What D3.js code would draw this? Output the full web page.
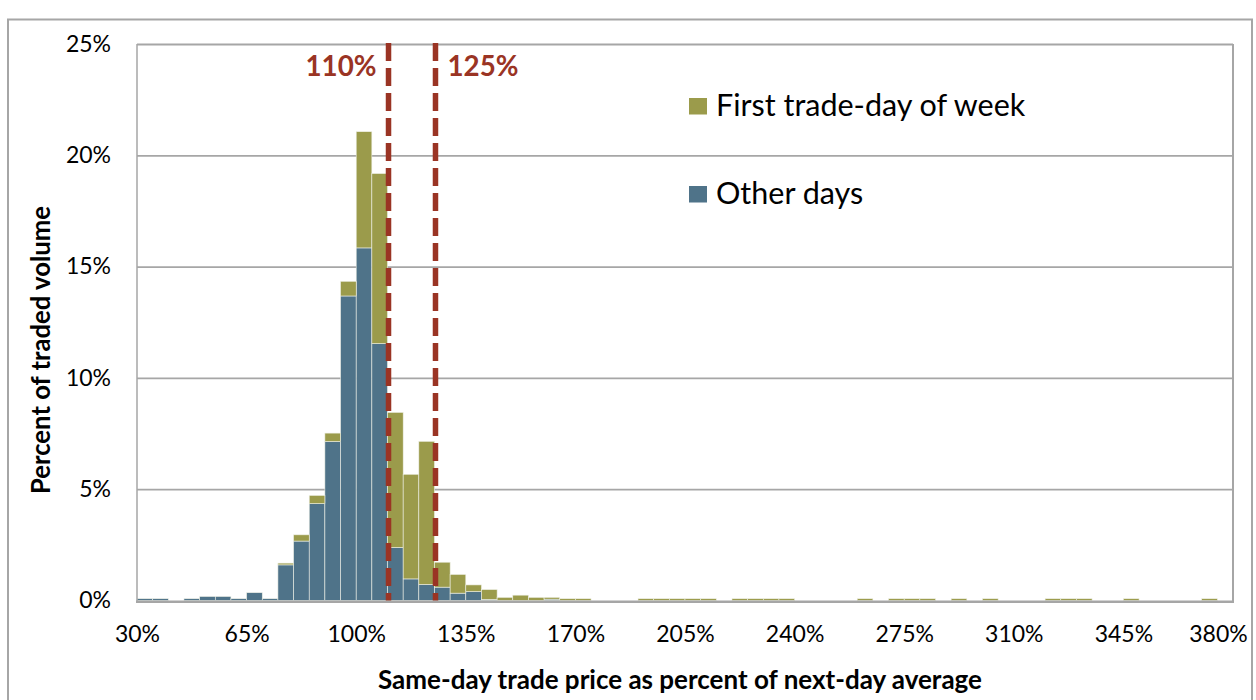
<!DOCTYPE html>
<html>
<head>
<meta charset="utf-8">
<script src="https://cdn.jsdelivr.net/npm/d3@7/dist/d3.min.js"></script>
<style>
  body { margin: 0; background: #fff; }
  svg { display: block; font-family: Lato, "Open Sans", sans-serif; }
</style>
</head>
<body>
<div class="viz"></div>
<script>
// bins of 5 points, value = lower edge of bin (same-day price as % of next-day avg)
var binStarts = [30, 35, 40, 45, 50, 55, 60, 65, 70, 75, 80, 85, 90, 95, 100, 105, 110, 115, 120, 125,
  130, 135, 140, 145, 150, 155, 160, 165, 170, 175, 180, 185, 190, 195, 200, 205, 210, 215, 220, 225,
  230, 235, 240, 245, 250, 255, 260, 265, 270, 275, 280, 285, 290, 295, 300, 305, 310, 315, 320, 325,
  330, 335, 340, 345, 350, 355, 360, 365, 370, 375];

// percent of traded volume
var otherDays = [0.08, 0.08, 0, 0.08, 0.18, 0.18, 0.08, 0.35, 0.08, 1.60, 2.67, 4.35, 7.14, 13.68, 15.84, 11.54, 2.38, 0.97, 0.72, 0.60,
  0.33, 0.40, 0.05, 0, 0, 0, 0.06, 0, 0, 0, 0, 0, 0, 0, 0, 0, 0, 0, 0, 0,
  0, 0, 0, 0, 0, 0, 0, 0, 0, 0, 0, 0, 0, 0, 0, 0, 0, 0, 0, 0,
  0, 0, 0, 0, 0, 0, 0, 0, 0, 0];

var firstDay = [0, 0, 0, 0, 0, 0, 0, 0, 0, 0.08, 0.28, 0.37, 0.38, 0.66, 5.22, 7.64, 6.07, 4.70, 6.43, 1.12,
  0.84, 0.30, 0.44, 0.14, 0.24, 0.14, 0.08, 0.08, 0.08, 0, 0, 0, 0.08, 0.08, 0.08, 0.08, 0.08, 0, 0.08, 0.08,
  0.08, 0.08, 0, 0, 0, 0, 0.08, 0, 0.08, 0.08, 0.08, 0, 0.08, 0, 0.08, 0, 0, 0, 0.08, 0.08,
  0.08, 0, 0, 0.08, 0, 0, 0, 0, 0.08, 0];

var yTicks = [0, 5, 10, 15, 20, 25];
var xTicks = [30, 65, 100, 135, 170, 205, 240, 275, 310, 345, 380];
var thresholds = [110, 125];
var seriesNames = ['Other days', 'First trade-day of week'];

var width = 1256,
    height = 700,
    margin = {top: 44, right: 23, bottom: 99.5, left: 137},
    binWidth = 5;

var colors = {other: '#4f7389', first: '#9b9b4b'},
    red = '#9a3424',
    grey = '#a6a6a6';

var svg = d3.select('.viz').append('svg')
  .attr('width', width)
  .attr('height', height);

// scale a text's font size so it spans the wanted width
function fitWidth(sel, target){
  sel.each(function(){
    var t = d3.select(this),
        fs = parseFloat(t.attr('font-size')),
        w = this.getComputedTextLength();
    if(w > 0) t.attr('font-size', (fs * target / w).toFixed(2));
  });
}

// outer chart frame
svg.append('rect')
  .attr('x', 8).attr('y', 19.5)
  .attr('width', 1244).attr('height', 720)
  .attr('fill', 'none')
  .attr('stroke', grey)
  .attr('stroke-width', 2);

var x = d3.scaleLinear()
  .domain([30, 380])
  .range([margin.left, width - margin.right]);

var y = d3.scaleLinear()
  .domain([0, 25])
  .range([height - margin.bottom, margin.top]);

// gridlines
svg.append('g')
  .attr('class', 'grid')
  .attr('transform', 'translate(' + margin.left + ',0)')
  .call(d3.axisLeft(y).tickValues(yTicks.slice(1)).tickSize(-(x.range()[1] - x.range()[0])).tickFormat(''))
  .call(function(g){
    g.select('.domain').remove();
    g.selectAll('line').attr('stroke', grey).attr('stroke-width', 1.8);
  });

// stacked bars
var table = binStarts.map(function(b, i){
  return {bin: b, other: otherDays[i], first: firstDay[i]};
});

var stacked = d3.stack().keys(['other', 'first'])(table);

svg.append('g')
  .selectAll('g')
  .data(stacked)
  .enter()
  .append('g')
  .attr('fill', function(d){ return colors[d.key]; })
  .selectAll('rect')
  .data(function(d){ return d.filter(function(e){ return e[1] - e[0] > 0; }); })
  .enter()
  .append('rect')
  .attr('x', function(d){ return x(d.data.bin); })
  .attr('width', function(d){ return x(d.data.bin + binWidth) - x(d.data.bin); })
  .attr('y', function(d){ return y(d[1]); })
  .attr('height', function(d){ return y(d[0]) - y(d[1]); })
  .attr('stroke', '#eef0e6')
  .attr('stroke-width', 0.6);

// plot frame: left, right, bottom
var frame = svg.append('g').attr('fill', 'none').attr('stroke', grey);
frame.append('line')
  .attr('x1', x(30)).attr('x2', x(30))
  .attr('y1', y(25)).attr('y2', y(0) + 1)
  .attr('stroke-width', 1.5);
frame.append('line')
  .attr('x1', x(380)).attr('x2', x(380))
  .attr('y1', y(25)).attr('y2', y(0) + 1)
  .attr('stroke-width', 2);
frame.append('line')
  .attr('x1', x(30) - 1).attr('x2', x(380) + 1)
  .attr('y1', y(0) + 1.2).attr('y2', y(0) + 1.2)
  .attr('stroke-width', 2.4);

// y axis labels
svg.append('g')
  .attr('transform', 'translate(' + (margin.left - 26) + ',0)')
  .call(d3.axisLeft(y).tickValues(yTicks).tickSize(0).tickPadding(0).tickFormat(function(d){ return d + '%'; }))
  .call(function(g){
    g.select('.domain').remove();
    g.selectAll('text').attr('font-size', 23).attr('fill', '#000').attr('font-family', 'Lato, sans-serif');
  });

// x axis labels
svg.append('g')
  .attr('transform', 'translate(0,' + (y(0) + 25) + ')')
  .call(d3.axisBottom(x).tickValues(xTicks).tickSize(0).tickPadding(0).tickFormat(function(d){ return d + '%'; }))
  .call(function(g){
    g.select('.domain').remove();
    g.selectAll('text').attr('font-size', 23).attr('fill', '#000').attr('font-family', 'Lato, sans-serif');
    g.selectAll('.tick').filter(function(d){ return d === 380; }).select('text').attr('dx', -15);
  });

// axis titles
svg.append('text')
  .attr('transform', 'translate(50,350) rotate(-90)')
  .attr('text-anchor', 'middle')
  .attr('font-weight', 'bold')
  .attr('font-size', 26)
  .text('Percent of traded volume')
  .call(fitWidth, 288);

svg.append('text')
  .attr('x', 680)
  .attr('y', 689)
  .attr('text-anchor', 'middle')
  .attr('font-weight', 'bold')
  .attr('font-size', 25)
  .text('Same-day trade price as percent of next-day average')
  .call(fitWidth, 604);

// dashed threshold lines
svg.append('g')
  .selectAll('line')
  .data(thresholds)
  .enter()
  .append('line')
  .attr('x1', function(d){ return x(d) + 1; })
  .attr('x2', function(d){ return x(d) + 1; })
  .attr('y1', y(25) - 1)
  .attr('y2', y(0))
  .attr('stroke', red)
  .attr('stroke-width', 5.5)
  .attr('stroke-dasharray', '18,7');

svg.append('g')
  .selectAll('text')
  .data(thresholds)
  .enter()
  .append('text')
  .attr('x', function(d, i){ return i ? x(d) + 13 : x(d) - 11; })
  .attr('y', 76)
  .attr('text-anchor', function(d, i){ return i ? 'start' : 'end'; })
  .attr('font-weight', 'bold')
  .attr('font-size', 27)
  .attr('fill', red)
  .text(function(d){ return d + '%'; })
  .call(fitWidth, 71);

// legend
var legend = svg.append('g')
  .selectAll('g')
  .data([{name: seriesNames[1], key: 'first'}, {name: seriesNames[0], key: 'other'}])
  .enter()
  .append('g')
  .attr('transform', function(d, i){ return 'translate(689,' + (98 + i * 88) + ')'; });

legend.append('rect')
  .attr('width', 18)
  .attr('height', 16.5)
  .attr('fill', function(d){ return colors[d.key]; });

legend.append('text')
  .attr('x', 27)
  .attr('y', 17.5)
  .attr('font-size', 30.5)
  .text(function(d){ return d.name; });
</script>
</body>
</html>
